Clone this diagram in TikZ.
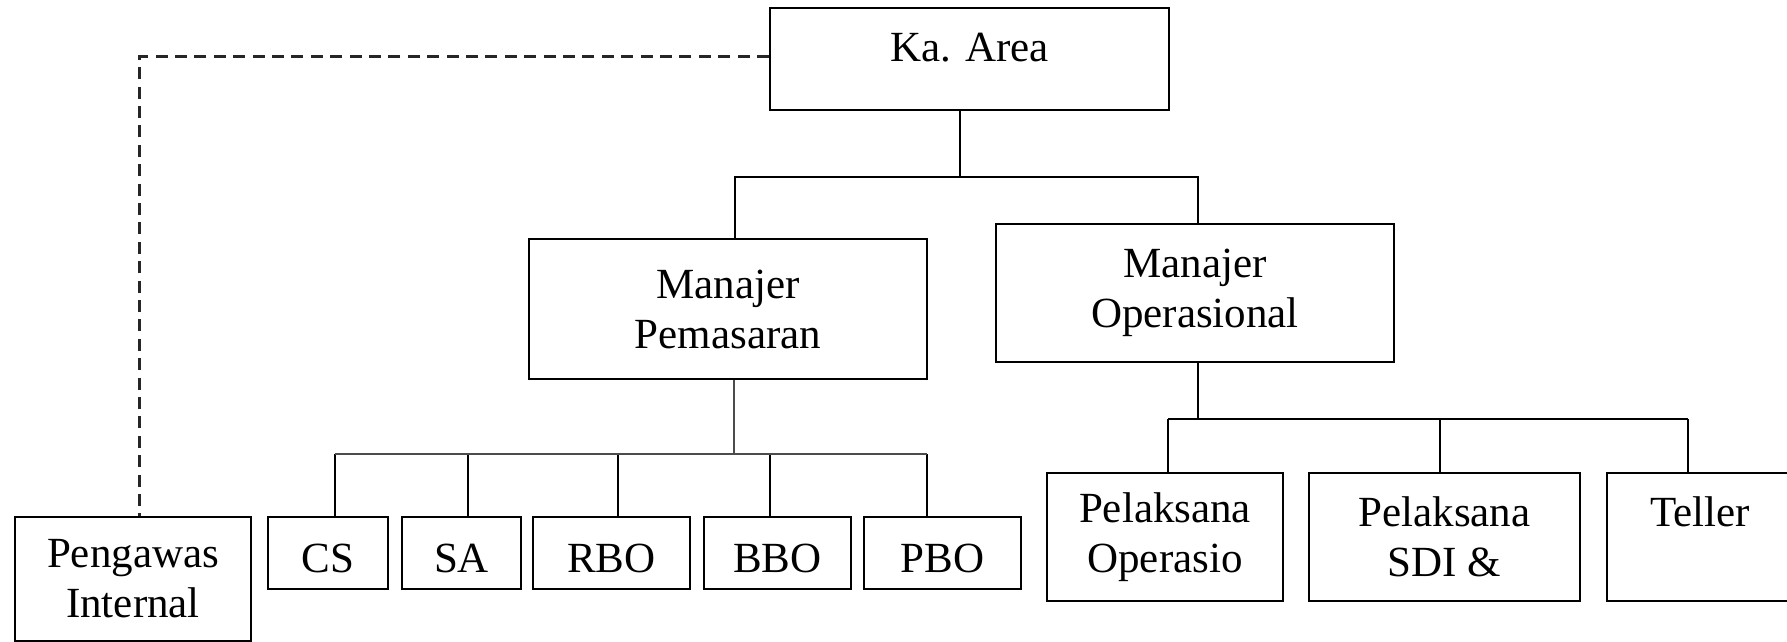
\documentclass[tikz,border=0pt]{standalone}
\usepackage{fontspec}
\setmainfont{Liberation Serif}
\usepackage{tikz}

\tikzset{
	box/.style={rectangle, draw, line width=1pt, inner sep=0pt, align=center,
		font=\fontsize{21.5pt}{25pt}\selectfont},
	unit/.style={box, minimum height=36pt},
	link/.style={line width=0.7pt},
	dashline/.style={line width=1.5pt, black!85, dash pattern=on 6pt off 3.7pt}
}

\begin{document}
\begin{tikzpicture}[x=0.5pt, y=-0.5pt]
			\useasboundingbox (0,0) rectangle (1787,642);
			
			% Top
			\node[box, minimum width=199.5pt, minimum height=51pt, text height=0.7em, text depth=0.45em] (area) at (969.5, 59) {Ka. Area};
			
			% Managers
			\node[box, minimum width=199pt, minimum height=70pt] (pm) at (728, 309) {Manajer\\Pemasaran};
			\node[box, minimum width=199pt, minimum height=69pt] (om) at (1195, 293) {Manajer\\Operasional};
			
			% Staff
			\node[box, minimum width=117.75pt, minimum height=62pt] (peng) at (133, 579) {Pengawas\\Internal};
			\node[unit, minimum width=60pt] (cs) at (328, 553) {\raisebox{-2.5pt}[\height][\depth]{CS}};
			\node[unit, minimum width=59.5pt] (sa) at (461.5, 553) {\raisebox{-2.5pt}[\height][\depth]{SA}};
			\node[unit, minimum width=78.5pt] (rbo) at (611.5, 553) {\raisebox{-2.5pt}[\height][\depth]{RBO}};
			\node[unit, minimum width=73.5pt] (bbo) at (777.5, 553) {\raisebox{-2.5pt}[\height][\depth]{BBO}};
			\node[unit, minimum width=78.5pt] (pbo) at (942.5, 553) {\raisebox{-2.5pt}[\height][\depth]{PBO}};
			\node[box, minimum width=118pt, minimum height=64pt] (po) at (1165, 537) {Pelaksana\\Operasio};
			\node[box, minimum width=135.5pt, minimum height=64pt] (psdi) at (1444.5, 537) {Pelaksana\\SDI \&};
			\node[box, minimum width=93pt, minimum height=64pt] (teller) at (1700, 537) {Teller\\~};
			
			% Junctions
			\coordinate (jarea) at (960, 177);
			\coordinate (jpm) at (735, 177);
			\coordinate (jom) at (1198, 177);
			\coordinate (jpmd) at (734, 454);
			\coordinate (jomd) at (1198, 419);
			\coordinate (jpeng) at (139, 57);
			
			% Connections
			\draw[link] (area.south -| jarea) -- (jarea);
			\draw[link] (pm.north -| jpm) -- (jpm) -- (jom) -- (om.north -| jom);
			
			\draw[link, line width=1pt, black!70] (pm.south -| jpmd) -- (jpmd);
			\foreach \n/\x in {cs/335, sa/468, rbo/618, bbo/770, pbo/927} {
				\coordinate (j\n) at (\x, 454);
				\draw[link] (j\n) -- (\n.north -| j\n);
			}
			\draw[link, line width=1pt, black!70] (jcs) -- (jpbo);
			
			\draw[link] (om.south -| jomd) -- (jomd);
			\foreach \n/\x in {po/1168, psdi/1440, teller/1688} {
				\coordinate (j\n) at (\x, 419);
				\draw[link] (j\n) -- (\n.north -| j\n);
			}
			\draw[link] (jpo) -- (jteller);
			
			\draw[dashline] (area.west |- jpeng) -- (jpeng) -- (peng.north -| jpeng);
		\end{tikzpicture}
\end{document}
